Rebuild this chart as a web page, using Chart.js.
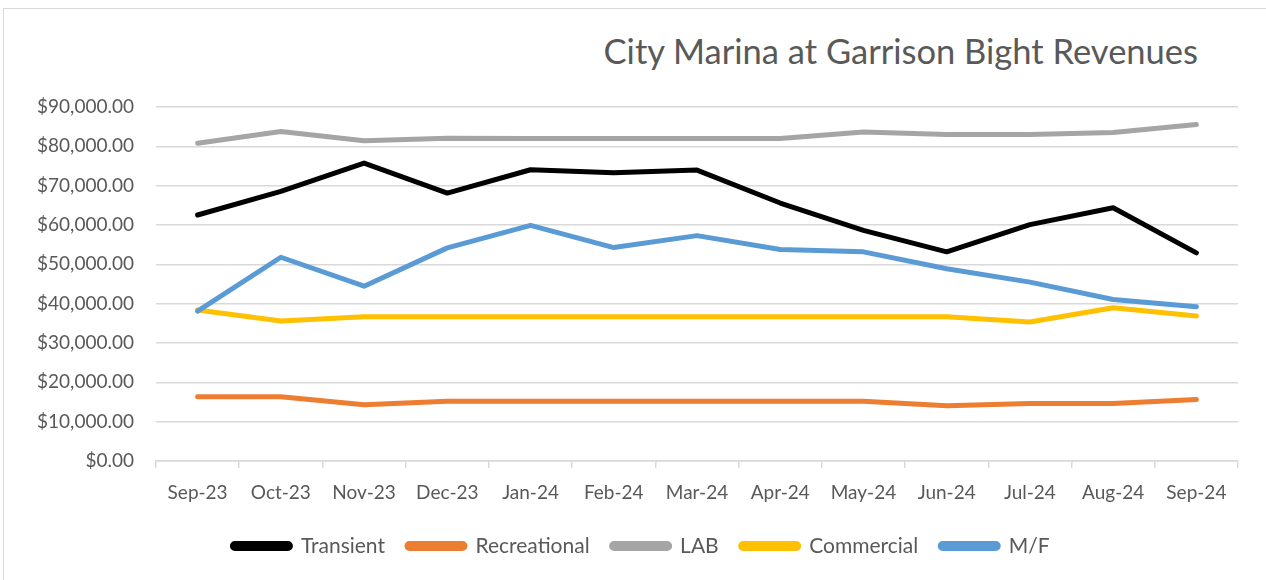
<!DOCTYPE html>
<html>
<head>
<meta charset="utf-8">
<script src="https://cdn.jsdelivr.net/npm/chart.js@4.4.1/dist/chart.umd.min.js"></script>
<style>
  html, body { margin:0; padding:0; background:#fff; overflow:hidden; width:1266px; height:580px; }
  #frame { position:absolute; left:3px; top:8px; width:1300px; height:700px; border:1px solid #d9d9d9; box-sizing:border-box; }
  #title { position:absolute; right:68px; top:31px; font-family:Lato, "Open Sans", sans-serif; font-size:34.5px; color:#595959; white-space:nowrap; line-height:40px; }
  #wrap { position:absolute; left:0; top:0; width:1266px; height:580px; }
</style>
</head>
<body>
<div id="frame"></div>
<div id="title">City Marina at Garrison Bight Revenues</div>
<div id="wrap"><canvas id="c" width="1266" height="580"></canvas></div>
<script>
const categories = ["Sep-23","Oct-23","Nov-23","Dec-23","Jan-24","Feb-24","Mar-24","Apr-24","May-24","Jun-24","Jul-24","Aug-24","Sep-24"];
const transient   = [62550, 68540, 75730, 68120, 74040, 73280, 73960, 65590, 58650, 53170, 60090, 64400, 52900];
const recreational= [16310, 16310, 14280, 15210, 15210, 15210, 15210, 15210, 15210, 14030, 14630, 14630, 15640];
const lab         = [80800, 83750, 81400, 82070, 82000, 82000, 82000, 82000, 83670, 83000, 83000, 83500, 85530];
const commercial  = [38370, 35580, 36680, 36680, 36680, 36680, 36680, 36680, 36680, 36680, 35330, 38970, 36850];
const mf          = [38110, 51800, 44450, 54180, 59920, 54260, 57300, 53750, 53170, 48860, 45470, 41070, 39220];
const yTicks = [0,10000,20000,30000,40000,50000,60000,70000,80000,90000];

const FONT = 'Lato, "Open Sans", sans-serif';
function ds(label, data, color, order) {
  return { label, data, borderColor: color, backgroundColor: color, borderWidth: 5,
           pointRadius: 0, pointHoverRadius: 0, tension: 0, borderJoinStyle: 'round',
           borderCapStyle: 'round', order, fill: false };
}
const legendShift = {
  id: 'legendShift',
  afterLayout(chart) {
    if (chart.legend) { chart.legend.left += 22; chart.legend.right += 22; }
  }
};
new Chart(document.getElementById('c'), {
  type: 'line',
  data: {
    labels: categories,
    datasets: [
      ds('Transient', transient, '#000000', 5),
      ds('Recreational', recreational, '#ED7D31', 4),
      ds('LAB', lab, '#A5A5A5', 3),
      ds('Commercial', commercial, '#FFC000', 2),
      ds('M/F', mf, '#5B9BD5', 1)
    ]
  },
  plugins: [legendShift],
  options: {
    responsive: false,
    animation: false,
    events: [],
    layout: { padding: { left: 0, right: 28, top: 107, bottom: 13.5 } },
    plugins: {
      title: { display: false },
      tooltip: { enabled: false },
      legend: {
        position: 'bottom',
        labels: {
          boxWidth: 58, boxHeight: 5, padding: 22,
          useBorderRadius: true, borderRadius: 2.5,
          color: '#595959', font: { family: FONT, size: 21 },
          sort: (a, b) => a.datasetIndex - b.datasetIndex
        }
      }
    },
    scales: {
      x: {
        offset: true,
        grid: { display: true, drawOnChartArea: false, drawTicks: true, tickLength: 7, color: '#d9d9d9', lineWidth: 1.5, offset: true },
        border: { display: true, color: '#d9d9d9', width: 1.5 },
        ticks: { color: '#595959', font: { family: FONT, size: 19 }, padding: 13, maxRotation: 0, autoSkip: false },
        afterFit: s => { s.height = 52.5; }
      },
      y: {
        min: 0, max: 90000,
        afterBuildTicks: s => { s.ticks = yTicks.map(v => ({ value: v })); },
        grid: { color: '#d9d9d9', lineWidth: 1.5, drawTicks: false },
        border: { display: false },
        ticks: {
          color: '#595959', font: { family: FONT, size: 19 }, padding: 22,
          callback: v => '$' + Number(v).toLocaleString('en-US', { minimumFractionDigits: 2, maximumFractionDigits: 2 })
        },
        afterFit: s => { s.width = 156; }
      }
    }
  }
});
</script>
</body>
</html>
